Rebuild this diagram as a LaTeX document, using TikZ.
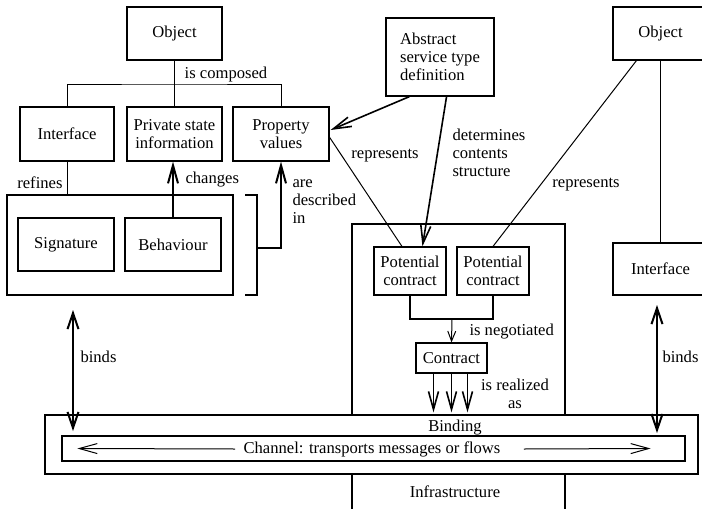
\documentclass[tikz,border=0pt]{standalone}
\usepackage{fontspec}
\setmainfont{Liberation Serif}
\usetikzlibrary{arrows.meta,calc,positioning}

\begin{document}
\begin{tikzpicture}[x=0.5pt,y=-0.5pt,line width=0.5pt,
  font=\fontsize{8.3}{9}\selectfont,
  box/.style={draw,line width=0.6pt,align=center,inner sep=1pt,fill=white},
  lbl/.style={align=left,inner sep=0pt},
  tip/.style={-{Straight Barb[length=5pt,width=4pt]}},
  longtip/.style={-{Straight Barb[length=9pt,width=5pt]}},
  dbl/.style={{Straight Barb[length=8pt,width=5.5pt]}-{Straight Barb[length=8pt,width=5.5pt]},line width=1pt},
]
\useasboundingbox (0,0) rectangle (702,509);

% infrastructure frame (open at the bottom)
\draw[line width=0.6pt] (352,515) -- (352,224) -- (565,224) -- (565,515);

% object on the left
\node[box,minimum width=47.5pt,minimum height=26.5pt] (obj) at (174.5,33.5) {Object};
\node[box,minimum width=47pt,minimum height=27pt] (iface) at (67,134) {Interface};
\node[box,minimum width=47.5pt,minimum height=27pt] (priv) at (174.5,134) {Private state\\information};
\node[box,minimum width=48pt,minimum height=27pt] (prop) at (281,134) {Property\\values};
\node[box,minimum width=113pt,minimum height=50pt] (spec) at (120,245) {};
\node[box,minimum width=48pt,minimum height=26.5pt] (sig) at (66,244.5) {Signature};
\node[box,minimum width=48pt,minimum height=26.5pt] (behav) at (173,244.5) {Behaviour};

% service type and contracts
\node[box,minimum width=54pt,minimum height=39pt,align=left] (abst) at (440,57) {Abstract\\service type\\definition};
\node[box,minimum width=36pt,minimum height=24pt] (pc1) at (410,271) {Potential\\contract};
\node[box,minimum width=36pt,minimum height=24pt] (pc2) at (493,271) {Potential\\contract};
\node[box,minimum width=35.5pt,minimum height=15pt] (contract) at (451.5,358) {Contract};

% object on the right
\node[box,minimum width=47.5pt,minimum height=26.5pt] (obj2) at (660.5,33.5) {Object};
\node[box,minimum width=47.5pt,minimum height=26pt] (iface2) at (660.5,269) {Interface};

% binding and channel
\node[box,minimum width=326.5pt,minimum height=29.5pt] (binding) at (371.5,444.5) {};
\node[box,minimum width=311.5pt,minimum height=12.5pt] (channel) at (373.5,448.5) {};
\node[lbl] (chlbl) at (372,449) {Channel: transports messages or flows};
\node[lbl] (bindlbl) at (455,428) {Binding};
\node[lbl] (infralbl) at (455,492) {Infrastructure};

% composition
\coordinate (cmp) at (174.5,84);
\draw (obj) -- (priv);
\draw (iface.north) |- (cmp) -| (prop.north);
\node[lbl] (cmplbl) at (226,75) {is composed};
\draw (iface.south) -- (iface.south |- spec.north);
\node[lbl,anchor=east] (reflbl) at (63,183) {refines};
\draw[line width=1pt,longtip] (behav.north) -- (behav.north |- priv.south);
\node[lbl,anchor=west] (chglbl) at (185,180) {changes};

% bracket
\coordinate (brt) at (257,195);
\coordinate (brm) at (257,248);
\coordinate (brb) at (257,295);
\draw[line width=1pt] ([xshift=-6pt]brt) -- (brt) -- (brb) -- ([xshift=-6pt]brb);
\draw[line width=1pt,longtip] (brm) -| (prop.south);
\node[lbl,anchor=west] (desclbl) at (292,202) {are\\described\\in};

% binds (left)
\coordinate (bl1) at (73,310);
\coordinate (bl2) at (73,431);
\draw[dbl] (bl1) -- (bl2);
\node[lbl,anchor=west] (bindslbl) at (80,357) {binds};

% service type definition
\draw[line width=0.8pt,longtip] ($(abst.south west)!0.22!(abst.south east)$) -- ($(prop.east)+(1,-4)$);
\draw[line width=0.8pt,longtip] ($(abst.south west)!0.56!(abst.south east)$) -- ($(pc1.north west)!0.67!(pc1.north east)$);
\node[lbl,anchor=west] (detlbl) at (452,153) {determines\\contents\\structure};
\draw ($(prop.north east)!0.56!(prop.south east)$) -- ($(pc1.north west)!0.39!(pc1.north east)$);
\node[lbl] (replbl) at (385,156) {represents};

% right object
\draw ($(obj2.south west)!0.25!(obj2.south east)$) -- (pc2.north);
\node[lbl] (rep2lbl) at (586,185) {represents};
\draw (obj2.south) -- (iface2.north);
\coordinate (br1) at (657,305);
\coordinate (br2) at (657,433);
\draw[dbl] (br1) -- (br2);
\node[lbl,anchor=west] (binds2lbl) at (662,357) {binds};

% negotiation
\coordinate (mrg) at (452,319);
\draw[line width=0.6pt] (pc1.south) |- (mrg) -| (pc2.south);
\draw[tip] (mrg) -- (contract.north);
\node[lbl,anchor=west] (neglbl) at (469,332) {is negotiated};
\foreach \dx in {-18,0,16}
  \draw[line width=0.8pt,longtip] ($(contract.south)+(\dx,0)$) -- ($(contract.south |- binding.north)+(\dx,-2)$);
\node[lbl,align=center] (reallbl) at (515,394) {is realized\\as};

% channel arrows
\draw[longtip] ($(chlbl.west)+(-8,0)$) -- ($(channel.west)+(16,0)$);
\draw[longtip] ($(chlbl.east)+(23,0)$) -- ($(channel.east)+(-35,0)$);
\end{tikzpicture}
\end{document}
